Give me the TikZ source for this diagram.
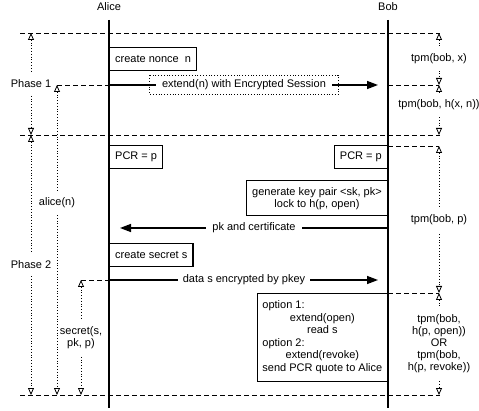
\documentclass[tikz,border=0pt]{standalone}
\usepackage{fontspec}
\setmainfont{Liberation Sans}
\usetikzlibrary{arrows.meta, calc}

\begin{document}
\begin{tikzpicture}[x=1pt, y=-1pt, font=\fontsize{11}{12}\selectfont,
    life/.style={line width=1.4pt},
    sep/.style={line width=0.7pt, dash pattern=on 5pt off 3pt},
    msg/.style={line width=1.4pt, -{Triangle[length=11pt, width=8pt]}, shorten >=10pt},
    msglbl/.style={fill=white, inner xsep=6pt},
    span/.style={line width=0.8pt, dash pattern=on 0.8pt off 2pt,
        {Triangle[open, length=7pt, width=6pt]}-{Triangle[open, length=7pt, width=6pt]}},
    spanlbl/.style={fill=white, inner xsep=1pt, inner ysep=7pt, align=center},
    act/.style={draw, line width=1.4pt, fill=white, inner xsep=5.5pt, minimum height=23pt, align=center}]

    \useasboundingbox (0,0) rectangle (479,411);

    % phase separators
    \foreach \y/\n in {33/0, 135/1, 395/2}
        \draw[sep] (20,\y) coordinate (sep\n-w) -- (440,\y) coordinate (sep\n-e);

    % participants and lifelines
    \node (alice) at (109,7) {Alice};
    \node (bob) at (388,7) {Bob};
    \coordinate (a-top) at (109,20);
    \coordinate (a-bot) at (109,408);
    \coordinate (b-top) at (388,20);
    \coordinate (b-bot) at (388,408);
    \draw[life] (a-top) -- (a-bot);
    \draw[life] (b-top) -- (b-bot);

    % phases on the left
    \coordinate (ph-top) at (31,33);
    \coordinate (ph-mid) at (31,135);
    \coordinate (ph-bot) at (31,395);
    \draw[span] (ph-top) -- (ph-mid) node[midway, spanlbl] (ph1) {Phase 1};
    \draw[span] (ph-mid) -- (ph-bot) node[midway, spanlbl] (ph2) {Phase 2};

    % knowledge of alice
    \coordinate (an-top) at (57,85);
    \coordinate (an-bot) at (57,395);
    \draw[span] (an-top) -- (an-bot) node[pos=0.38, spanlbl] (an) {alice(n)};
    \coordinate (sc-top) at (81,280);
    \coordinate (sc-bot) at (81,395);
    \draw[span] (sc-top) -- (sc-bot) node[midway, spanlbl] (sc) {secret(s,\\ pk, p)};

    % tpm states on the right
    \coordinate (t0) at (439,33);
    \coordinate (t1) at (439,85);
    \coordinate (t2) at (439,135);
    \coordinate (t3) at (439,146);
    \coordinate (t4) at (439,293);
    \coordinate (t5) at (439,395);
    \draw[span] (t0) -- (t1) node[midway, spanlbl] (tpm0) {tpm(bob, x)};
    \draw[span] (t1) -- (t2) node[pos=0.4, spanlbl] (tpm1) {tpm(bob, h(x, n))};
    \draw[span] (t3) -- (t4) node[midway, spanlbl] (tpm2) {tpm(bob, p)};
    \draw[span] (t4) -- (t5) node[midway, spanlbl] (tpm3)
        {tpm(bob,\\ h(p, open))\\ OR\\ tpm(bob,\\ h(p, revoke))};

    % phase 1
    \node[act, anchor=north west] (nonce) at (109,47) {create nonce \ n};
    \coordinate (a-ext) at (109,85);
    \coordinate (b-ext) at (388,85);
    \draw[sep] (an-top) -- (a-ext);
    \draw[sep] (b-ext) -- (t1);
    \draw[msg] (a-ext) -- (b-ext);
    \node[msglbl] (ext) at (244,85) {extend(n) with Encrypted Session};
    \draw[line width=0.8pt, dash pattern=on 0.8pt off 2pt]
        ($(ext.north west)+(-6,-1)$) rectangle ($(ext.south east)+(6,1)$);

    % phase 2
    \coordinate (b-pcr) at (388,146);
    \draw[sep] (b-pcr) -- (t3);
    \node[act, anchor=north west] (pcr-a) at (109,145) {PCR = p};
    \node[act, anchor=north east] (pcr-b) at (388,145) {PCR = p};
    \node[act, anchor=north east, minimum height=35pt] (keygen) at (388,180)
        {generate key pair <sk, pk>\\ lock to h(p, open)};

    \coordinate (b-pk) at (388,228);
    \coordinate (a-pk) at (109,228);
    \draw[msg, shorten >=11pt] (b-pk) -- (a-pk);
    \node[msglbl] (pk) at (254,228) {pk and certificate};

    \node[act, anchor=north west] (secret) at (109,243) {create secret s};

    \coordinate (a-dat) at (109,280);
    \coordinate (b-dat) at (388,280);
    \draw[sep] (sc-top) -- (a-dat);
    \draw[msg] (a-dat) -- (b-dat);
    \node[msglbl, inner xsep=5pt] (dat) at (244,280) {data s encrypted by pkey};

    \coordinate (b-opt) at (388,293);
    \draw[sep] (b-opt) -- (t4);
    \node[act, anchor=north east, inner xsep=5pt, inner ysep=6pt,
          font=\fontsize{11}{12.6}\selectfont] (opts) at (388,293)
        {\begin{tabular}{@{}c@{}}
            \multicolumn{1}{@{}l@{}}{option 1:}\\ extend(open)\\ read s\\
            \multicolumn{1}{@{}l@{}}{option 2:}\\ extend(revoke)\\ send PCR quote to Alice
         \end{tabular}};

\end{tikzpicture}
\end{document}
